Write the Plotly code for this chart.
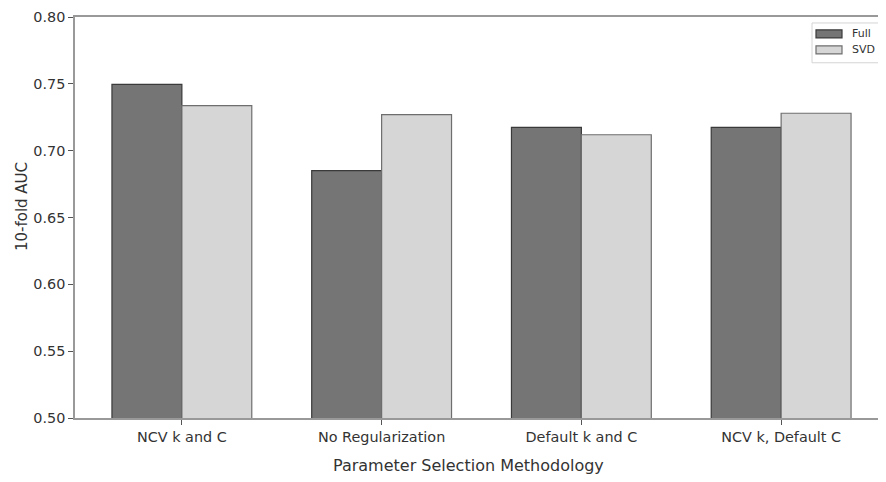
import plotly.graph_objects as go

categories = ["NCV k and C", "No Regularization", "Default k and C", "NCV k, Default C"]
full_auc = [0.7496, 0.6851, 0.7174, 0.7174]
svd_auc = [0.7337, 0.7270, 0.7119, 0.7280]
series_names = ["Full", "SVD"]
fill_colors = ["#757575", "#d6d6d6"]
edge_colors = ["#3a3a3a", "#6e6e6e"]

FONT = "DejaVu Sans"
W, H = 881, 474
ML, MR, MT, MB = 67, 1, 7, 64
PW, PH = W - ML - MR, H - MT - MB


def px(x):
    return (x - ML) / PW


def py(y):
    return 1 - (y - MT) / PH


fig = go.Figure()
for name, vals, fc, ec in zip(series_names, [full_auc, svd_auc], fill_colors, edge_colors):
    fig.add_trace(go.Bar(x=categories, y=vals, name=name, showlegend=False,
                         marker=dict(color=fc, line=dict(color=ec, width=1.2))))

shapes = [
    dict(type="rect", xref="paper", yref="paper", layer="above",
         x0=px(804), x1=px(871), y0=py(53), y1=py(13),
         fillcolor="rgba(255,255,255,0.85)", line=dict(color="#d4d4d4", width=1)),
]
annotations = []
for i, (name, fc, ec) in enumerate(zip(series_names, fill_colors, edge_colors)):
    top = 20 + 16 * i
    shapes.append(dict(type="rect", xref="paper", yref="paper", layer="above",
                       x0=px(808), x1=px(834), y0=py(top + 8), y1=py(top),
                       fillcolor=fc, line=dict(color=ec, width=1.2)))
    annotations.append(dict(text=name, xref="paper", yref="paper",
                            x=px(842), y=py(top + 4), xanchor="left", yanchor="middle",
                            showarrow=False,
                            font=dict(family=FONT, size=11, color="#333333")))

annotations.append(dict(text="Parameter Selection Methodology", xref="paper", yref="paper",
                        x=px(460), y=py(458), xanchor="center", yanchor="middle",
                        showarrow=False, font=dict(family=FONT, size=16, color="#333333")))
annotations.append(dict(text="10-fold AUC", xref="paper", yref="paper", textangle=-90,
                        x=px(14), y=py(197), xanchor="center", yanchor="middle",
                        showarrow=False, font=dict(family=FONT, size=15, color="#333333")))

fig.update_layout(
    width=W, height=H,
    margin=dict(l=ML, r=MR, t=MT, b=MB),
    paper_bgcolor="white", plot_bgcolor="white",
    barmode="group", bargap=0.3, bargroupgap=0,
    font=dict(family=FONT, size=14.4, color="#333333"),
    showlegend=False,
    shapes=shapes,
    annotations=annotations,
    xaxis=dict(
        range=[-0.535, 3.535],
        showline=True, linecolor="#999999", linewidth=1.5, mirror=True,
        ticks="outside", ticklen=5, tickcolor="#555555",
        showgrid=False, zeroline=False,
        tickfont=dict(family=FONT, size=14.4, color="#333333"),
    ),
    yaxis=dict(
        range=[0.5, 0.8], dtick=0.05, tickformat=".2f",
        showline=True, linecolor="#999999", linewidth=1.5,
        ticks="outside", ticklen=5, tickcolor="#555555",
        ticklabeloverflow="allow",
        showgrid=False, zeroline=False,
        tickfont=dict(family=FONT, size=14.4, color="#333333"),
    ),
)

fig.write_html("out.html")
